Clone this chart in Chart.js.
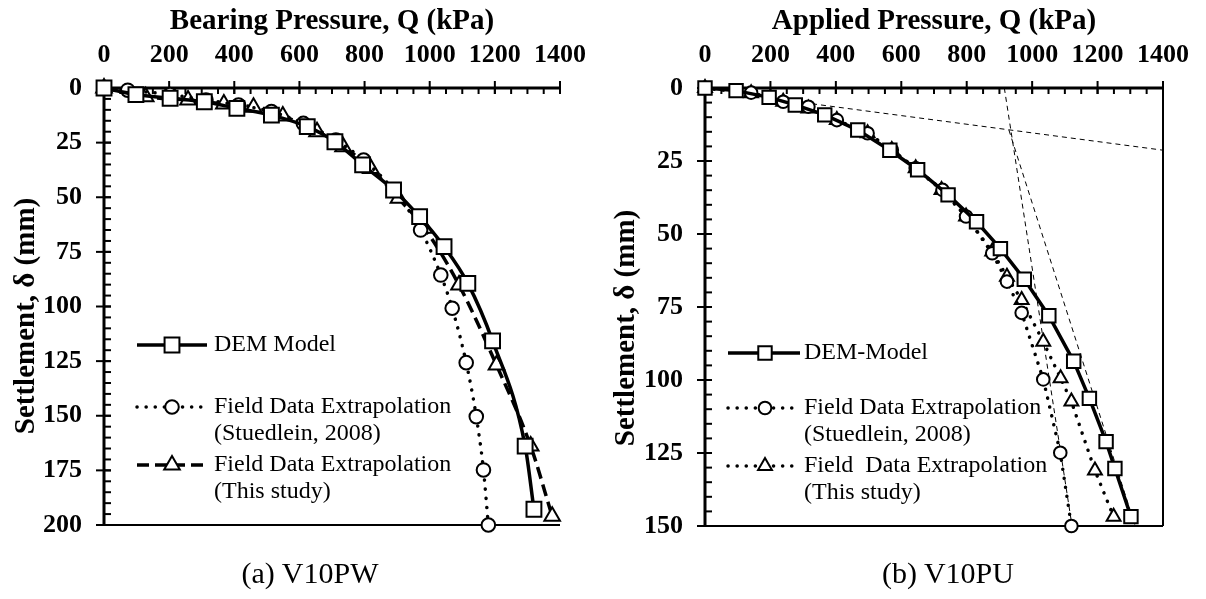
<!DOCTYPE html>
<html>
<head>
<meta charset="utf-8">
<script src="https://cdn.jsdelivr.net/npm/chart.js@4.4.0/dist/chart.umd.min.js"></script>
<style>
  body { margin: 0; background: #fff; width: 1206px; height: 599px; position: relative; overflow: hidden; }
  .panel { position: absolute; top: 0; height: 599px; }
  .cap { position: absolute; top: 556px; width: 240px; text-align: center;
         font: 30px "Liberation Serif", "Times New Roman", serif; color: #000; }
</style>
</head>
<body>
<div class="panel" style="left:0;width:603px"><canvas id="chartPW" width="603" height="599"></canvas></div>
<div class="panel" style="left:600px;width:606px"><canvas id="chartPU" width="606" height="599"></canvas></div>
<div class="cap" style="left:190px">(a) V10PW</div>
<div class="cap" style="left:828px">(b) V10PU</div>
<script>
var FONT = '"Liberation Serif", "Times New Roman", serif';

// (a) V10PW  -- Q in kPa, settlement in mm
var pwDemQ  = [0, 98, 203, 308, 408, 514, 624, 709, 794, 889, 969, 1044, 1117, 1193, 1293, 1320];
var pwDemS  = [0, 3, 4.7, 6.3, 9.3, 12.4, 17.7, 24.6, 35.2, 46.7, 58.9, 72.6, 89.4, 115.7, 163.9, 192.8];
var pwStuQ  = [73, 203, 313, 413, 514, 612, 712, 797, 889, 972, 1034, 1069, 1112, 1143, 1165, 1180];
var pwStuS  = [1, 3, 5.5, 7.8, 10.8, 16.2, 23.8, 33, 46.7, 65, 85.6, 100.8, 125.7, 150.4, 174.8, 200];
var pwThisQ = [0, 128, 258, 368, 459, 549, 654, 734, 819, 904, 984, 1090, 1205, 1310, 1376];
var pwThisS = [0, 4, 5.5, 7.3, 8.8, 12.8, 20, 26.9, 36.8, 50.5, 64.2, 90.2, 126.8, 163.9, 196];

// (b) V10PU
var puDemQ  = [0, 95, 196, 276, 366, 467, 565, 650, 743, 830, 903, 976, 1051, 1127, 1175, 1226, 1253, 1302];
var puDemS  = [0, 0.9, 3.2, 5.8, 9.2, 14.4, 21.3, 28, 36.6, 45.8, 55, 65.5, 78, 93.6, 106.3, 121.1, 130.3, 146.8];
var puStuQ  = [0, 141, 239, 316, 403, 497, 571, 644, 726, 798, 878, 923, 968, 1034, 1086, 1120];
var puStuS  = [0, 1.6, 4.7, 6.4, 11, 15.5, 21.2, 27.5, 34.9, 44, 56.6, 66.3, 77, 99.8, 124.9, 150];
var puThisQ = [0, 141, 239, 316, 403, 497, 571, 644, 723, 798, 878, 923, 968, 1034, 1087, 1120, 1192, 1249];
var puThisS = [0, 1.8, 4.7, 7, 11, 15.5, 21.2, 27.5, 34.9, 44, 56, 64.6, 72.6, 86.9, 99.4, 107.4, 131, 146.8];

// tangent construction lines on (b)
var tanAQ = [300, 1400], tanAS = [5, 21.3];
var tanBQ = [915, 1122], tanBS = [0, 150];
var tanCQ = [929, 1315], tanCS = [14.4, 150];

var xTicks = [0, 200, 400, 600, 800, 1000, 1200, 1400];

function pts(q, s) {
  return q.map(function (v, i) { return { x: v, y: s[i] }; });
}

function series(q, s, style, r, dash, width, smooth) {
  return {
    data: pts(q, s),
    borderColor: '#000',
    borderWidth: width,
    borderDash: dash,
    borderCapStyle: (dash.length && dash[0] < 1) ? 'round' : 'butt',
    pointStyle: style,
    pointRadius: r,
    pointHoverRadius: r,
    pointBorderWidth: 2,
    pointBackgroundColor: '#fff',
    pointBorderColor: '#000',
    cubicInterpolationMode: smooth ? 'monotone' : 'default',
    tension: 0,
    clip: false
  };
}

function guide(q, s) {
  return {
    data: pts(q, s),
    borderColor: '#000',
    borderWidth: 1,
    borderDash: [5, 4],
    pointRadius: 0,
    tension: 0,
    clip: false
  };
}

function seg(ctx, x1, y1, x2, y2) {
  ctx.beginPath(); ctx.moveTo(x1, y1); ctx.lineTo(x2, y2); ctx.stroke();
}

var framePlugin = {
  id: 'frame',
  beforeDatasetsDraw: function (chart, args, o) {
    var ctx = chart.ctx, a = chart.chartArea, xs = chart.scales.x, ys = chart.scales.y;
    ctx.save();
    ctx.strokeStyle = '#000';
    ctx.lineWidth = 2;
    var v, p;
    for (v = 0; v <= xs.max; v += o.xMinor) {
      p = xs.getPixelForValue(v); seg(ctx, p, a.top, p, a.top + 6);
    }
    for (v = 0; v <= ys.max; v += o.yMinor) {
      p = ys.getPixelForValue(v); seg(ctx, a.left, p, a.left + 7, p);
    }
    xs.ticks.forEach(function (t) {
      p = xs.getPixelForValue(t.value); seg(ctx, p, a.top - 7, p, a.top + 6);
    });
    ys.ticks.forEach(function (t) {
      p = ys.getPixelForValue(t.value); seg(ctx, a.left - 8, p, a.left + 7, p);
    });
    ctx.lineWidth = 2;
    seg(ctx, a.left, a.bottom, a.right, a.bottom);
    if (o.box) seg(ctx, a.right, a.top, a.right, a.bottom);
    ctx.lineWidth = 3;
    seg(ctx, a.left - 1.5, a.top, a.right + 1, a.top);
    seg(ctx, a.left, a.top, a.left, a.bottom + 1);

    // y-axis title
    ctx.translate(27, o.yTitleY);
    ctx.rotate(-Math.PI / 2);
    ctx.fillStyle = '#000';
    ctx.font = 'bold 29px ' + FONT;
    ctx.textAlign = 'center';
    ctx.textBaseline = 'middle';
    ctx.fillText('Settlement, \u03b4 (mm)', 0, 0);
    ctx.restore();
  },
  afterDraw: function (chart, args, o) {
    var ctx = chart.ctx;
    ctx.save();
    ctx.strokeStyle = '#000';
    o.legend.forEach(function (it) {
      ctx.lineWidth = it.width;
      ctx.setLineDash(it.dash);
      ctx.lineCap = (it.dash.length && it.dash[0] < 1) ? 'round' : 'butt';
      seg(ctx, o.lx0, it.y, o.lx1, it.y);
      ctx.setLineDash([]);
      ctx.lineCap = 'butt';
      ctx.fillStyle = '#fff';
      ctx.lineWidth = 2;
      Chart.helpers.drawPoint(ctx, { pointStyle: it.style, radius: it.r, borderWidth: 2, rotation: 0 }, o.mx, it.y);
      ctx.fillStyle = '#000';
      ctx.font = '24px ' + FONT;
      ctx.textBaseline = 'middle';
      ctx.textAlign = 'left';
      it.text.forEach(function (t, k) { ctx.fillText(t, o.tx, it.y + k * 26.5); });
    });
    ctx.restore();
  }
};

function makeChart(id, xTitle, yMax, datasets, pad, yWidth, frameOpts) {
  return new Chart(document.getElementById(id), {
    type: 'line',
    data: { datasets: datasets },
    plugins: [framePlugin],
    options: {
      responsive: false,
      animation: false,
      events: [],
      layout: { padding: pad },
      plugins: { legend: { display: false }, tooltip: { enabled: false }, frame: frameOpts },
      scales: {
        x: {
          type: 'linear', position: 'top', min: 0, max: 1400,
          afterBuildTicks: function (s) { s.ticks = xTicks.map(function (v) { return { value: v }; }); },
          afterFit: function (s) { s.height = 88; },
          grid: { display: false, drawTicks: false },
          border: { display: false },
          ticks: { autoSkip: false, maxRotation: 0, padding: 17, color: '#000',
                   callback: function (v) { return String(v); },
                   font: { family: FONT, size: 26, weight: 'bold' } },
          title: { display: true, text: xTitle, color: '#000', padding: { top: 4, bottom: 0 },
                   font: { family: FONT, size: 29, weight: 'bold' } }
        },
        y: {
          type: 'linear', reverse: true, min: 0, max: yMax,
          ticks: { stepSize: 25, autoSkip: false, padding: 22, color: '#000',
                   callback: function (v) { return String(v); },
                   font: { family: FONT, size: 26, weight: 'bold' } },
          afterFit: function (s) { s.width = yWidth; },
          grid: { display: false, drawTicks: false },
          border: { display: false },
          title: { display: false }
        }
      }
    }
  });
}

makeChart('chartPW', 'Bearing Pressure, Q (kPa)', 200, [
  series(pwDemQ, pwDemS, 'rect', 10.5, [], 3.5, true),
  series(pwStuQ, pwStuS, 'circle', 6.8, [0.1, 9], 3.5, true),
  series(pwThisQ, pwThisS, 'triangle', 9, [12, 6], 3.5, true)
], { left: 0, top: 0, right: 33, bottom: 74 }, 104, {
  xMinor: 50, yMinor: 5, box: false, yTitleY: 316,
  lx0: 137, lx1: 207, mx: 172, tx: 214,
  legend: [
    { y: 345, style: 'rect', r: 10.5, dash: [], width: 3.5, text: ['DEM Model'] },
    { y: 407, style: 'circle', r: 6.8, dash: [0.1, 9], width: 3.5, text: ['Field Data Extrapolation', '(Stuedlein, 2008)'] },
    { y: 465, style: 'triangle', r: 9, dash: [12, 6], width: 3.5, text: ['Field Data Extrapolation', '(This study)'] }
  ]
});

makeChart('chartPU', 'Applied Pressure, Q (kPa)', 150, [
  series(puDemQ, puDemS, 'rect', 9.5, [], 3.5, false),
  series(puStuQ, puStuS, 'circle', 6.3, [0.1, 9], 3.5, false),
  series(puThisQ, puThisS, 'triangle', 8, [0.1, 9], 3.5, false),
  guide(tanAQ, tanAS),
  guide(tanBQ, tanBS),
  guide(tanCQ, tanCS)
], { left: 0, top: 0, right: 36, bottom: 73 }, 105, {
  xMinor: 50, yMinor: 5, box: true, yTitleY: 328,
  lx0: 128, lx1: 200, mx: 165, tx: 204,
  legend: [
    { y: 353, style: 'rect', r: 9.5, dash: [], width: 3.5, text: ['DEM-Model'] },
    { y: 408, style: 'circle', r: 6.3, dash: [0.1, 9], width: 3.5, text: ['Field Data Extrapolation', '(Stuedlein, 2008)'] },
    { y: 466, style: 'triangle', r: 8, dash: [0.1, 9], width: 3.5, text: ['Field  Data Extrapolation', '(This study)'] }
  ]
});
</script>
</body>
</html>
